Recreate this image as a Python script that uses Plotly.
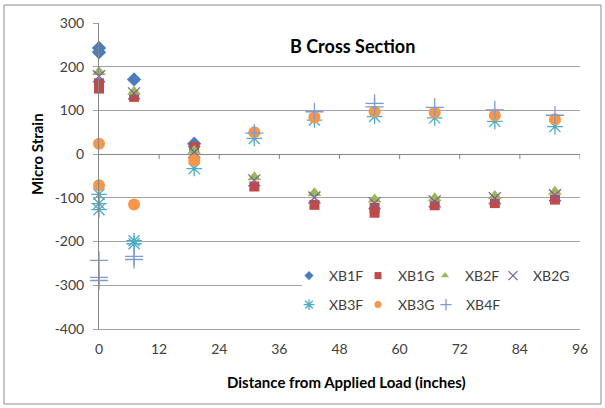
import plotly.graph_objects as go

# ---- data ----
series_names = ["XB1F", "XB1G", "XB2F", "XB2G", "XB3F", "XB3G", "XB4F"]

xb1f_x = [0, 0, 7, 19]
xb1f_y = [243, 233, 171, 24]

xb1g_x = [0, 0, 7, 19, 31, 43, 55, 55, 67, 79, 91]
xb1g_y = [162, 150, 131, 16, -74, -116, -123, -134, -117, -112, -104]

xb2f_x = [0, 7, 19, 31, 43, 55, 67, 79, 91]
xb2f_y = [188, 143, 8, -53, -89, -104, -101, -96, -86]

xb2g_x = [0, 7, 19, 31, 43, 55, 67, 79, 91]
xb2g_y = [178, 139, 5, -60, -99, -112, -108, -101, -94]

xb3f_x = [0, 0, 0, 7, 7, 19, 31, 43, 55, 67, 79, 91]
xb3f_y = [-92, -113, -127, -198, -205, -33, 36, 78, 86, 83, 75, 63]

xb3g_x = [0, 0, 7, 19, 31, 43, 55, 67, 79, 91]
xb3g_y = [24, -71, -115, -14, 50, 84, 97, 95, 89, 80]

xb4f_x = [0, 0, 0, 7, 7, 31, 43, 55, 55, 67, 79, 91]
xb4f_y = [-243, -282, -289, -234, -241, 48, 97, 116, 108, 107, 101, 89]

x_ticks = [0, 12, 24, 36, 48, 60, 72, 84, 96]
y_ticks = [-400, -300, -200, -100, 0, 100, 200, 300]

title_text = "B Cross Section"
x_title = "Distance from Applied Load (inches)"
y_title = "Micro Strain"

# ---- styling ----
FONT = "Lato, 'Liberation Sans', sans-serif"
TXT = "#404040"
styles = {
    "XB1F": dict(symbol="diamond", size=11, color="#4a7ebb"),
    "XB1G": dict(symbol="square", size=10, color="#be4b48"),
    "XB2F": dict(symbol="triangle-up", size=12, color="#98b954"),
    "XB2G": dict(symbol="x-thin", size=12, color="#7d60a0", line=dict(color="#7d60a0", width=1.3)),
    "XB3F": dict(symbol="asterisk", size=13, color="#4bacc6", line=dict(color="#4bacc6", width=1.3)),
    "XB3G": dict(symbol="circle", size=12, color="#f79646"),
    "XB4F": dict(symbol="cross-thin", size=13, color="#7e9ccc", line=dict(color="#7e9ccc", width=1.3)),
}
legend_sizes = {"XB1F": 7, "XB1G": 7, "XB2F": 7, "XB2G": 9, "XB3F": 9, "XB3G": 7, "XB4F": 8}
data = {
    "XB1F": (xb1f_x, xb1f_y), "XB1G": (xb1g_x, xb1g_y), "XB2F": (xb2f_x, xb2f_y),
    "XB2G": (xb2g_x, xb2g_y), "XB3F": (xb3f_x, xb3f_y), "XB3G": (xb3g_x, xb3g_y),
    "XB4F": (xb4f_x, xb4f_y),
}

W, H = 605, 408
L, R, T, B = 99, 25, 23, 79
pw, ph = W - L - R, H - T - B
AX = "#868686"
GRID = "#a3a3a3"

def px_x(p):
    return (p - L) / pw

def px_y(p):
    return (H - B - p) / ph

# legend layout: symbol centre pixel positions (x) and row pixel centres (y)
legend_sym_x = [309, 378, 445, 513, 309, 378, 446]
legend_row_y = [276, 276, 276, 276, 305, 305, 305]

fig = go.Figure()
for name in series_names:
    xs, ys = data[name]
    fig.add_trace(go.Scatter(
        x=xs, y=ys, mode="markers", name=name, marker=styles[name],
        cliponaxis=False, showlegend=False,
    ))

legend_layouts = {}
for i, name in enumerate(series_names):
    m = dict(styles[name])
    m["size"] = legend_sizes[name]
    key = "legend" if i == 0 else f"legend{i + 1}"
    fig.add_trace(go.Scatter(
        x=[None], y=[None], mode="markers", name=name, marker=m, legend=key,
    ))
    legend_layouts[key] = dict(
        x=px_x(legend_sym_x[i] - 20), y=px_y(legend_row_y[i]),
        xanchor="left", yanchor="middle", bgcolor="rgba(0,0,0,0)",
        font=dict(family=FONT, size=14, color=TXT), itemsizing="trace",
    )

fig.update_layout(
    width=W, height=H,
    margin=dict(l=L, r=R, t=T, b=B),
    paper_bgcolor="white", plot_bgcolor="white",
    font=dict(family=FONT, size=14, color=TXT),
    xaxis=dict(
        range=[0, 96], tickvals=x_ticks, ticktext=[str(v) for v in x_ticks],
        showgrid=False, zeroline=False, showline=True, linecolor=GRID, linewidth=1,
        ticks="", ticklabelstandoff=7,
        tickfont=dict(family=FONT, size=14, color=TXT),
    ),
    yaxis=dict(
        range=[-400, 300], tickvals=y_ticks, ticktext=[str(v) for v in y_ticks],
        showgrid=True, gridcolor=GRID, gridwidth=1,
        zeroline=True, zerolinecolor=AX, zerolinewidth=1,
        showline=True, linecolor=AX, linewidth=1,
        ticks="outside", ticklen=5, tickcolor=GRID, ticklabelstandoff=6,
        tickfont=dict(family=FONT, size=14, color=TXT),
    ),
    **legend_layouts,
)

# white band behind the legend block (hides the gridline there, as in the reference)
fig.add_shape(type="rect", xref="paper", yref="paper",
              x0=px_x(302), x1=px_x(586), y0=px_y(318), y1=px_y(262),
              fillcolor="white", line=dict(width=0), layer="above")

# small tick marks on the horizontal axis that crosses at 0
for v in x_ticks[1:]:
    fig.add_shape(type="line", xref="x", yref="y", x0=v, x1=v,
                  ysizemode="pixel", yanchor=0, y0=0, y1=-5,
                  line=dict(color=AX, width=1))

# outer chart border
fig.add_shape(type="rect", xref="paper", yref="paper",
              x0=px_x(4), x1=px_x(601), y0=px_y(404), y1=px_y(5),
              line=dict(color="#8c8c8c", width=1), layer="below")

fig.add_annotation(text=f"<b>{title_text}</b>", xref="paper", yref="paper",
                   x=px_x(352), y=px_y(46), showarrow=False,
                   xanchor="center", yanchor="middle",
                   font=dict(family=FONT, size=18, color="#000000"))
fig.add_annotation(text=f"<b>{x_title}</b>", xref="paper", yref="paper",
                   x=px_x(346), y=px_y(382), showarrow=False,
                   xanchor="center", yanchor="middle",
                   font=dict(family=FONT, size=15, color="#000000"))
fig.add_annotation(text=f"<b>{y_title}</b>", xref="paper", yref="paper",
                   x=px_x(37), y=px_y(154), showarrow=False, textangle=-90,
                   xanchor="center", yanchor="middle",
                   font=dict(family=FONT, size=15, color="#000000"))

fig.write_html("out.html")
